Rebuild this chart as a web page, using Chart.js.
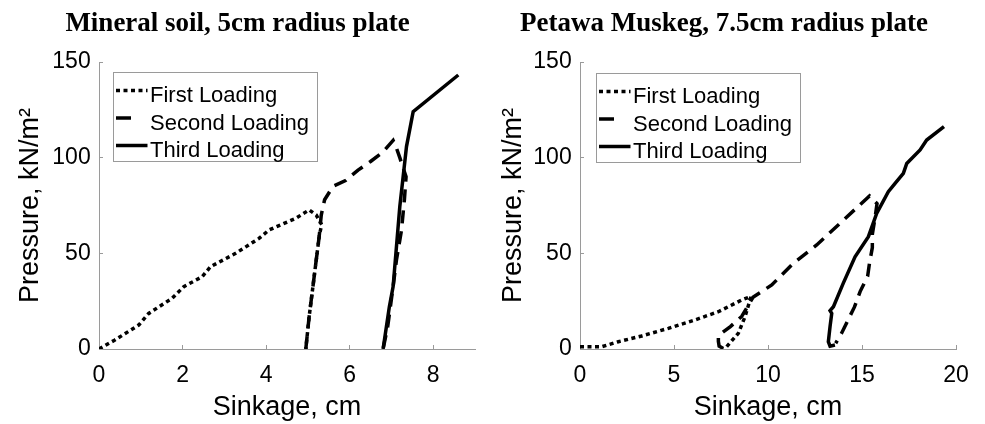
<!DOCTYPE html>
<html>
<head>
<meta charset="utf-8">
<title>Plate sinkage tests</title>
<script src="https://cdn.jsdelivr.net/npm/chart.js@4.4.1/dist/chart.umd.min.js"></script>
<style>
  html, body { margin: 0; padding: 0; background: #fff; overflow: hidden; }
  body { width: 985px; height: 424px; position: relative; }
  canvas { position: absolute; top: 0; }
  #mineral { left: 0; }
  #muskeg { left: 492px; }
</style>
</head>
<body>
<canvas id="mineral" width="558" height="424"></canvas>
<canvas id="muskeg" width="563" height="424"></canvas>
<script>
const seriesLabels = ['First Loading', 'Second Loading', 'Third Loading'];
const yTicks = [0, 50, 100, 150];

// Mineral soil, 5cm radius plate (sinkage cm, pressure kN/m2)
const mineralFirstX = [0, 0.38, 0.95, 1.19, 1.75, 2.03, 2.47, 2.67, 3.27, 3.83, 4.07, 4.71, 5.03, 5.2, 5.33, 5.3, 5.27, 5.19, 5.11, 5.03, 4.95];
const mineralFirstY = [0, 4.7, 12.5, 18.6, 26.5, 32.6, 37.8, 43, 50, 57.8, 62.2, 68.3, 72.7, 70, 65, 62, 58.7, 44.8, 30.8, 16.9, 0];
const mineralSecondX = [4.95, 5.03, 5.11, 5.19, 5.27, 5.32, 5.4, 5.6, 5.9, 6.2, 6.5, 6.8, 7.04, 7.12, 7.2, 7.35, 7.31, 7.24, 7.12, 7.04, 6.91, 6.8];
const mineralSecondY = [0, 16.9, 30.8, 44.8, 58.7, 70, 78, 85, 88, 93.5, 98, 103, 109, 105, 100, 90, 78, 62, 46.5, 32.6, 11.7, 0];
const mineralThirdX = [6.8, 6.88, 6.95, 7.04, 7.12, 7.2, 7.28, 7.36, 7.52, 8.6];
const mineralThirdY = [0, 11.7, 22.1, 32.6, 53.5, 74.4, 90, 105.8, 124, 143.2];

// Petawa Muskeg, 7.5cm radius plate
const muskegFirstX = [0, 0.5, 1.15, 2.04, 3.28, 4.7, 6.12, 7.36, 8.6, 9.1, 8.78, 8.42, 7.8, 7.62];
const muskegFirstY = [1.2, 1.2, 1.2, 3.8, 6.8, 10.8, 15.2, 19.5, 25.6, 27.5, 16.9, 8.2, 1.2, 0.3];
const muskegSecondX = [7.62, 7.4, 7.36, 7.36, 8.0, 8.6, 9.2, 10.2, 11.35, 12.59, 13.83, 15.4, 15.8, 15.7, 15.55, 15.55, 15.4, 15.3, 14.9, 14.6, 14.2, 13.9, 13.6];
const muskegSecondY = [0.3, 1.5, 4, 7, 11.7, 17, 27, 33.5, 44.8, 54.4, 65.7, 80, 76, 69, 60, 53, 45, 38, 30, 22, 14, 8, 3];
const muskegThirdX = [13.56, 13.3, 13.21, 13.3, 13.39, 13.3, 13.48, 14.0, 14.63, 15.34, 15.78, 16.4, 16.76, 17.2, 17.38, 18.09, 18.44, 19.36];
const muskegThirdY = [2.1, 1.5, 3.8, 11.7, 18.6, 20, 22.1, 34.3, 48.2, 58.7, 70.9, 82.2, 86.6, 91.8, 97, 104, 109.2, 116.2];

const SANS = '"Liberation Sans", Arial, Helvetica, sans-serif';
Chart.defaults.font.family = SANS;
Chart.defaults.color = '#000';

const dashes = [[4, 3.5], [13, 8], []];
const legendDashes = [[4, 3.5], [15, 40], []];

function toPoints(xs, ys) {
  return xs.map((x, i) => ({ x, y: ys[i] }));
}

function makeDatasets(series) {
  return series.map((s, i) => ({
    label: seriesLabels[i],
    data: toPoints(s[0], s[1]),
    borderColor: '#000',
    borderWidth: 3.5,
    borderDash: dashes[i],
    legendDash: legendDashes[i],
    pointRadius: 0,
    tension: 0,
    fill: false
  }));
}

// legend drawn as a framed box inside the plot, top left
const boxLegend = {
  id: 'boxLegend',
  afterDatasetsDraw(chart, args, opts) {
    const ctx = chart.ctx;
    const area = chart.chartArea;
    const x0 = Math.round(area.left + opts.dx) + 0.5;
    const y0 = Math.round(area.top + opts.dy) + 0.5;
    ctx.save();
    ctx.font = '22px ' + SANS;
    const sets = chart.data.datasets;
    const textW = Math.max(...sets.map(d => ctx.measureText(d.label).width));
    const w = Math.round(36.5 + textW + 8);
    const h = 89;
    ctx.fillStyle = '#fff';
    ctx.fillRect(x0, y0, w, h);
    ctx.strokeStyle = '#9a9a9a';
    ctx.lineWidth = 1;
    ctx.strokeRect(x0, y0, w, h);
    sets.forEach((ds, i) => {
      const yLine = y0 + 18 + i * 27.5;
      ctx.beginPath();
      ctx.setLineDash(ds.legendDash);
      ctx.lineWidth = ds.borderWidth;
      ctx.strokeStyle = ds.borderColor;
      ctx.moveTo(x0 + 2.5, yLine);
      ctx.lineTo(x0 + 34, yLine);
      ctx.stroke();
      ctx.setLineDash([]);
      ctx.fillStyle = '#000';
      ctx.textBaseline = 'alphabetic';
      ctx.fillText(ds.label, x0 + 36.5, y0 + 29.5 + i * 27.5);
    });
    ctx.restore();
  }
};

function makeChart(id, title, series, xMax, xStep, yWidth, yTitlePad, padRight, legendPos) {
  return new Chart(document.getElementById(id), {
    type: 'line',
    data: { datasets: makeDatasets(series) },
    plugins: [boxLegend],
    options: {
      responsive: false,
      animation: false,
      layout: { padding: { left: 0, right: padRight, top: 0, bottom: 0 } },
      plugins: {
        legend: { display: false },
        tooltip: { enabled: false },
        title: {
          display: true,
          text: title,
          font: { family: '"Liberation Serif", "Times New Roman", serif', size: 27, weight: 'bold' },
          padding: { top: 7.8, bottom: 21.8 }
        },
        boxLegend: legendPos
      },
      scales: {
        x: {
          type: 'linear',
          min: 0,
          max: xMax,
          border: { display: true, color: '#9a9a9a', width: 1 },
          grid: { drawOnChartArea: false, drawTicks: true, tickLength: -4, color: '#9a9a9a' },
          ticks: { stepSize: xStep, includeBounds: false, padding: 16.5, font: { size: 23 }, maxRotation: 0 },
          title: { display: true, text: 'Sinkage, cm', font: { size: 27 }, padding: { top: 0, bottom: 0.3 } },
          afterFit(scale) { scale.height = 75; }
        },
        y: {
          type: 'linear',
          min: 0,
          max: 150,
          border: { display: true, color: '#9a9a9a', width: 1 },
          grid: { drawOnChartArea: false, drawTicks: true, tickLength: -4, color: '#9a9a9a' },
          ticks: { stepSize: 50, padding: 12.3, font: { size: 23 } },
          afterBuildTicks(scale) { scale.ticks = yTicks.map(v => ({ value: v })); },
          title: { display: true, text: 'Pressure, kN/m²', font: { size: 27 }, padding: { top: yTitlePad, bottom: 0 } },
          afterFit(scale) { scale.width = yWidth; }
        }
      }
    }
  });
}

makeChart('mineral', 'Mineral soil, 5cm radius plate',
  [[mineralFirstX, mineralFirstY], [mineralSecondX, mineralSecondY], [mineralThirdX, mineralThirdY]],
  9, 2, 99, 14.4, 83, { dx: 13.7, dy: 10.3 });

makeChart('muskeg', 'Petawa Muskeg, 7.5cm radius plate',
  [[muskegFirstX, muskegFirstY], [muskegSecondX, muskegSecondY], [muskegThirdX, muskegThirdY]],
  20, 5, 88, 5.7, 99, { dx: 16, dy: 11 });
</script>
</body>
</html>
